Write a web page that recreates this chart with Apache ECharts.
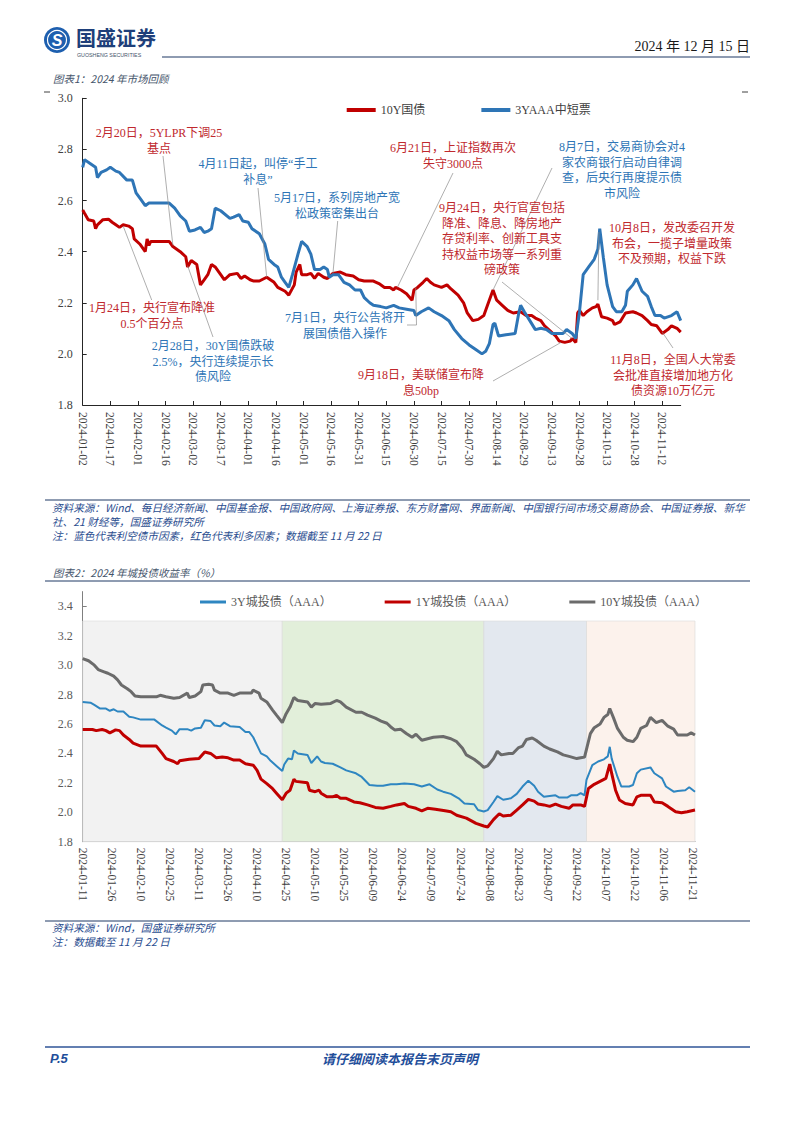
<!DOCTYPE html>
<html><head><meta charset="utf-8">
<script src="https://cdn.jsdelivr.net/npm/echarts@6/dist/echarts.min.js"></script>
<style>html,body{margin:0;padding:0;background:#fff}#page{width:794px;height:1123px}</style>
</head><body><div id="page"></div>
<script>
// ---------------- DATA ----------------
// Chart 1: daily categories 2024-01-02 .. 2024-11-22, points are [days since 2024-01-02, yield %]
const chart1Start = '2024-01-02', chart1End = '2024-11-22';
const chart1Names = ['10Y国债', '3YAAA中短票'];
const gov10Y = [[0,2.563],[1,2.55],[3,2.525],[6,2.52],[7,2.49],[8,2.505],[11,2.525],[14,2.527],[16,2.515],[18,2.505],[20,2.495],[22,2.505],[25,2.50],[27,2.49],[28,2.45],[31,2.43],[34,2.40],[35,2.45],[36,2.425],[37,2.44],[47,2.44],[49,2.42],[53,2.40],[56,2.38],[57,2.34],[59,2.365],[62,2.35],[64,2.27],[66,2.29],[68,2.31],[70,2.35],[72,2.34],[75,2.31],[77,2.29],[80,2.31],[84,2.315],[86,2.295],[88,2.305],[91,2.29],[93,2.285],[96,2.285],[100,2.30],[104,2.28],[106,2.26],[110,2.245],[112,2.23],[115,2.27],[116,2.32],[118,2.35],[119,2.31],[122,2.31],[124,2.315],[126,2.295],[128,2.315],[131,2.30],[133,2.295],[136,2.315],[140,2.32],[143,2.31],[147,2.305],[150,2.29],[153,2.285],[158,2.285],[161,2.275],[164,2.26],[167,2.26],[169,2.25],[170,2.26],[173,2.25],[176,2.235],[179,2.21],[180,2.25],[182,2.26],[185,2.28],[187,2.295],[189,2.28],[191,2.27],[195,2.26],[198,2.27],[200,2.255],[204,2.23],[207,2.20],[209,2.16],[212,2.13],[215,2.135],[218,2.15],[220,2.19],[223,2.25],[225,2.21],[228,2.19],[231,2.17],[234,2.16],[238,2.165],[241,2.15],[244,2.15],[246,2.14],[249,2.13],[251,2.11],[254,2.09],[257,2.07],[259,2.05],[262,2.045],[265,2.05],[266,2.06],[268,2.045],[269,2.16],[270,2.17],[272,2.15],[274,2.165],[277,2.18],[279,2.185],[280,2.195],[282,2.145],[285,2.14],[288,2.13],[289,2.115],[292,2.125],[295,2.16],[299,2.165],[301,2.16],[304,2.15],[307,2.13],[309,2.115],[312,2.11],[315,2.08],[318,2.095],[320,2.11],[323,2.10],[325,2.085]];
const mtn3YAAA = [[0,2.73],[1,2.76],[4,2.745],[7,2.73],[8,2.69],[10,2.71],[13,2.72],[15,2.73],[18,2.715],[20,2.71],[24,2.68],[27,2.68],[29,2.63],[31,2.61],[34,2.58],[36,2.59],[47,2.59],[50,2.57],[53,2.54],[56,2.52],[58,2.48],[61,2.485],[64,2.495],[66,2.475],[68,2.48],[70,2.49],[72,2.57],[75,2.56],[80,2.53],[82,2.535],[85,2.545],[87,2.52],[90,2.515],[92,2.49],[96,2.47],[99,2.43],[101,2.37],[104,2.35],[106,2.34],[108,2.30],[110,2.28],[112,2.26],[114,2.31],[117,2.39],[119,2.44],[122,2.42],[124,2.39],[126,2.33],[129,2.33],[131,2.34],[133,2.33],[134,2.30],[136,2.31],[139,2.31],[142,2.28],[145,2.27],[148,2.25],[151,2.25],[153,2.22],[156,2.20],[158,2.19],[162,2.185],[165,2.18],[169,2.19],[172,2.18],[176,2.175],[180,2.17],[181,2.15],[184,2.165],[188,2.18],[191,2.165],[195,2.15],[199,2.13],[202,2.095],[206,2.06],[210,2.035],[214,2.015],[217,2.00],[219,2.01],[221,2.04],[223,2.115],[224,2.12],[226,2.07],[230,2.075],[235,2.08],[237,2.16],[238,2.19],[240,2.165],[243,2.13],[246,2.095],[249,2.10],[252,2.095],[255,2.08],[261,2.08],[263,2.095],[266,2.08],[268,2.06],[270,2.165],[272,2.31],[275,2.34],[278,2.37],[279,2.39],[280,2.41],[281,2.49],[283,2.375],[285,2.27],[288,2.185],[290,2.165],[293,2.165],[295,2.19],[296,2.245],[299,2.27],[301,2.295],[304,2.245],[307,2.225],[309,2.185],[311,2.15],[314,2.15],[316,2.14],[318,2.145],[320,2.15],[323,2.165],[325,2.13]];
const chart1Ticks = [1.8, 3.0, 0.2]; // min, max, step

// Chart 2: daily categories 2024-01-11 .. 2024-11-22, points are [days since 2024-01-11, yield %]
const chart2Start = '2024-01-11', chart2End = '2024-11-22';
const chart2Names = ['3Y城投债（AAA）', '1Y城投债（AAA）', '10Y城投债（AAA）'];
const lgfv3Y = [[0,2.75],[4,2.745],[6,2.73],[9,2.705],[12,2.705],[14,2.69],[16,2.70],[18,2.685],[21,2.685],[24,2.65],[26,2.645],[30,2.63],[37,2.63],[41,2.59],[43,2.575],[46,2.555],[48,2.53],[50,2.565],[54,2.565],[56,2.555],[58,2.57],[61,2.575],[63,2.625],[66,2.62],[68,2.59],[71,2.585],[73,2.61],[76,2.585],[81,2.58],[84,2.545],[86,2.545],[88,2.51],[90,2.455],[92,2.40],[95,2.38],[97,2.35],[100,2.315],[103,2.28],[104,2.325],[106,2.365],[108,2.36],[109,2.42],[111,2.40],[116,2.39],[118,2.335],[121,2.38],[123,2.345],[125,2.335],[129,2.33],[133,2.305],[136,2.285],[141,2.265],[144,2.24],[148,2.185],[152,2.18],[155,2.18],[159,2.19],[162,2.19],[166,2.195],[171,2.19],[175,2.175],[179,2.19],[183,2.155],[186,2.14],[190,2.125],[194,2.095],[197,2.06],[202,2.055],[204,2.015],[207,2.005],[209,2.015],[212,2.07],[214,2.11],[217,2.085],[221,2.095],[224,2.125],[227,2.175],[230,2.215],[233,2.18],[235,2.14],[238,2.105],[241,2.11],[244,2.115],[246,2.10],[250,2.10],[252,2.115],[255,2.115],[257,2.13],[259,2.115],[260,2.22],[263,2.32],[266,2.345],[269,2.36],[271,2.38],[272,2.445],[273,2.365],[276,2.24],[278,2.175],[282,2.175],[284,2.185],[286,2.265],[288,2.29],[293,2.305],[295,2.265],[299,2.23],[301,2.175],[305,2.14],[307,2.145],[311,2.15],[313,2.17],[316,2.14]];
const lgfv1Y = [[0,2.563],[5,2.563],[7,2.555],[10,2.563],[12,2.555],[14,2.54],[17,2.56],[19,2.555],[21,2.525],[24,2.495],[26,2.47],[30,2.45],[38,2.45],[41,2.40],[43,2.365],[47,2.345],[49,2.33],[50,2.35],[55,2.36],[60,2.365],[63,2.41],[66,2.40],[69,2.37],[72,2.375],[75,2.37],[78,2.355],[81,2.355],[84,2.33],[88,2.32],[90,2.285],[92,2.225],[95,2.195],[98,2.16],[100,2.13],[103,2.085],[105,2.13],[107,2.15],[109,2.225],[110,2.21],[116,2.20],[117,2.15],[120,2.14],[122,2.15],[123,2.13],[126,2.105],[129,2.105],[131,2.115],[133,2.095],[136,2.095],[140,2.07],[143,2.065],[147,2.05],[151,2.033],[155,2.027],[159,2.04],[162,2.05],[166,2.06],[168,2.04],[172,2.027],[175,2.01],[178,2.027],[182,2.02],[187,2.01],[190,2.004],[193,1.98],[198,1.96],[203,1.925],[207,1.907],[209,1.90],[212,1.95],[215,1.99],[217,1.975],[221,1.98],[224,2.015],[227,2.05],[230,2.088],[233,2.076],[235,2.056],[238,2.05],[241,2.04],[244,2.056],[247,2.04],[251,2.027],[253,2.05],[257,2.05],[259,2.04],[261,2.162],[264,2.19],[267,2.21],[270,2.23],[272,2.328],[273,2.264],[275,2.15],[277,2.083],[280,2.06],[284,2.05],[286,2.105],[288,2.115],[293,2.115],[295,2.07],[299,2.065],[302,2.04],[306,2.004],[309,1.997],[312,2.004],[316,2.015]];
const lgfv10Y = [[0,3.045],[3,3.03],[6,3.00],[8,2.97],[11,2.955],[13,2.945],[16,2.925],[18,2.90],[20,2.865],[23,2.84],[25,2.82],[27,2.79],[30,2.785],[38,2.785],[40,2.795],[43,2.785],[47,2.775],[50,2.78],[54,2.81],[55,2.78],[58,2.79],[61,2.82],[62,2.865],[65,2.87],[67,2.865],[68,2.83],[71,2.81],[75,2.81],[78,2.795],[81,2.81],[87,2.81],[88,2.83],[91,2.81],[92,2.775],[95,2.75],[98,2.695],[100,2.66],[103,2.61],[105,2.67],[107,2.715],[109,2.78],[111,2.76],[116,2.75],[118,2.715],[120,2.74],[123,2.735],[128,2.74],[131,2.76],[133,2.75],[136,2.715],[141,2.68],[144,2.68],[147,2.66],[151,2.64],[154,2.62],[157,2.605],[159,2.58],[161,2.56],[164,2.565],[167,2.535],[170,2.51],[172,2.53],[175,2.49],[178,2.50],[181,2.51],[186,2.515],[190,2.50],[193,2.48],[196,2.435],[198,2.39],[202,2.36],[205,2.33],[207,2.305],[209,2.315],[212,2.365],[214,2.415],[216,2.39],[220,2.40],[222,2.40],[225,2.44],[227,2.45],[229,2.495],[232,2.505],[234,2.49],[238,2.45],[241,2.43],[245,2.41],[248,2.39],[251,2.38],[255,2.365],[257,2.37],[259,2.375],[262,2.535],[264,2.575],[267,2.60],[269,2.645],[271,2.665],[272,2.705],[274,2.64],[276,2.57],[279,2.51],[281,2.49],[284,2.48],[286,2.51],[288,2.57],[291,2.59],[293,2.645],[296,2.61],[299,2.625],[302,2.585],[305,2.565],[307,2.525],[312,2.525],[314,2.54],[316,2.525]];
const chart2Ticks = [1.8, 3.5, 0.2];
// shaded phases: [from day, to day] since 2024-01-11, and top of shading (%)
const phaseDays = [[0,103],[103,207],[207,260],[260,316]];
const phaseTop = 3.3;

// Annotations of chart 1: text and the point they point to [days since 2024-01-02, yield]
const noteTexts = [
  '2月20日，5YLPR下调25\n基点',
  '4月11日起，叫停“手工\n补息”',
  '5月17日，系列房地产宽\n松政策密集出台',
  '1月24日，央行宣布降准\n0.5个百分点',
  '2月28日，30Y国债跌破\n2.5%，央行连续提示长\n债风险',
  '7月1日，央行公告将开\n展国债借入操作',
  '6月21日，上证指数再次\n失守3000点',
  '9月18日，美联储宣布降\n息50bp',
  '9月24日，央行官宣包括\n降准、降息、降房地产\n存贷利率、创新工具支\n持权益市场等一系列重\n磅政策',
  '8月7日，交易商协会对4\n家农商银行启动自律调\n查，后央行再度提示债\n市风险',
  '10月8日，发改委召开发\n布会，一揽子增量政策\n不及预期，权益下跌',
  '11月8日，全国人大常委\n会批准直接增加地方化\n债资源10万亿元'
];
const noteKinds = ['bull','bear','bear','bull','bear','bear','bull','bull','bull','bear','bull','bull'];
const noteTargets = [[49,2.425],[100,2.30],[136,2.315],[22,2.50],[57,2.345],[181,2.26],[171,2.26],[260,2.045],[266,2.06],[223,2.25],[280,2.21],[315,2.085]];

// ---------------- LAYOUT / STYLE ----------------
const SERIF = "'Liberation Serif','Times New Roman','Noto Sans CJK SC',serif";
const SANS = "'Noto Sans CJK SC','Liberation Sans',sans-serif";
const RED = '#C00000', BLUE = '#2E75B6';
const noteLayout = [
  {x:159, y:133, path:[[163,156]]},
  {x:258, y:164, path:[[258,188]]},
  {x:337, y:198, path:[[337.7,221]]},
  {x:152, y:308, path:[[151.7,300]]},
  {x:213, y:346, path:[[213,337]]},
  {x:345, y:318, path:[[407,325],[416.5,325]]},
  {x:453, y:148, path:[[453,173]]},
  {x:421, y:375, path:[[493,381]]},
  {x:502, y:208, path:[[502,282]]},
  {x:622, y:147, path:[[552,168]]},
  {x:672, y:228, path:[[598.9,232]]},
  {x:673, y:360, path:[[673,348]]}
];
const LH = 15.5;

function dayList(a, b) {
  const out = [];
  const d = new Date(a + 'T00:00:00Z'), e = new Date(b + 'T00:00:00Z');
  while (d <= e) { out.push(d.toISOString().slice(0, 10)); d.setUTCDate(d.getUTCDate() + 1); }
  return out;
}
const dates1 = dayList(chart1Start, chart1End);
const dates2 = dayList(chart2Start, chart2End);

const chart = echarts.init(document.getElementById('page'), null, {renderer: 'svg', width: 794, height: 1123});

function yAxisCfg(gi, t, color, lineColor) {
  return {
    type: 'value', gridIndex: gi, min: t[0], max: t[1], interval: t[2],
    axisLine: {show: true, lineStyle: {color: lineColor, width: 1}},
    axisTick: {show: true, inside: true, length: 4, lineStyle: {color: lineColor}},
    splitLine: {show: false},
    axisLabel: {color: color, fontSize: 12, fontFamily: SERIF, margin: 10, showMaxLabel: gi === 0,
      formatter: v => v.toFixed(1)}
  };
}
const every15 = (i) => i % 15 === 0;
function xAxisCfg(gi, cats, lineColor, margin) {
  return {
    type: 'category', gridIndex: gi, data: cats, boundaryGap: false,
    axisLine: {show: true, lineStyle: {color: lineColor, width: 1}},
    axisTick: {show: true, inside: true, length: 4, interval: every15, lineStyle: {color: lineColor}},
    splitLine: {show: false},
    axisLabel: {interval: every15, rotate: -90, color: '#404040', fontSize: 11.5, fontFamily: SERIF, margin: margin, hideOverlap: false}
  };
}

const shadeColors = ['#F2F2F2', '#E2EFDA', '#E3E8EF', '#FCF2EC'];

const option = {
  animation: false,
  backgroundColor: '#ffffff',
  grid: [
    {left: 82.7, top: 98.3, width: 598, height: 306.7, containLabel: false, outerBoundsMode: 'none'},
    {left: 82.7, top: 591.6, width: 612.3, height: 250.1, containLabel: false, outerBoundsMode: 'none'}
  ],
  xAxis: [xAxisCfg(0, dates1, '#262626', 7), xAxisCfg(1, dates2, '#7f7f7f', 6)],
  yAxis: [yAxisCfg(0, chart1Ticks, '#404040', '#262626'), yAxisCfg(1, chart2Ticks, '#595959', '#7f7f7f')],
  legend: [
    {data: chart1Names, left: 346.7, top: 104, padding: 0, itemGap: 56, icon: 'rect', itemWidth: 29, itemHeight: 4,
     textStyle: {fontSize: 12, fontFamily: SERIF, color: '#404040'}, selectedMode: false},
    {data: chart2Names, left: 200, top: 596, padding: 0, itemGap: 53, icon: 'rect', itemWidth: 26, itemHeight: 3,
     textStyle: {fontSize: 12, fontFamily: SERIF, color: '#595959'}, selectedMode: false}
  ],
  series: [
    {name: chart1Names[0], type: 'line', xAxisIndex: 0, yAxisIndex: 0, data: gov10Y, showSymbol: false, symbol: 'none',
     lineStyle: {color: RED, width: 3}, itemStyle: {color: RED}, z: 3},
    {name: chart1Names[1], type: 'line', xAxisIndex: 0, yAxisIndex: 0, data: mtn3YAAA, showSymbol: false, symbol: 'none',
     lineStyle: {color: BLUE, width: 3}, itemStyle: {color: BLUE}, z: 4},
    {name: chart2Names[0], type: 'line', xAxisIndex: 1, yAxisIndex: 1, data: lgfv3Y, showSymbol: false, symbol: 'none',
     lineStyle: {color: '#2E86C1', width: 2}, itemStyle: {color: '#2E86C1'}, z: 3,
     markArea: {silent: true, z: 1,
       data: phaseDays.map((p, i) => [
         {xAxis: dates2[p[0]], yAxis: chart2Ticks[0], itemStyle: {color: shadeColors[i], borderColor: '#d9d9d9', borderWidth: 0.6}},
         {xAxis: dates2[p[1]], yAxis: phaseTop}
       ])}},
    {name: chart2Names[1], type: 'line', xAxisIndex: 1, yAxisIndex: 1, data: lgfv1Y, showSymbol: false, symbol: 'none',
     lineStyle: {color: RED, width: 3}, itemStyle: {color: RED}, z: 3},
    {name: chart2Names[2], type: 'line', xAxisIndex: 1, yAxisIndex: 1, data: lgfv10Y, showSymbol: false, symbol: 'none',
     lineStyle: {color: '#6B6B6B', width: 3}, itemStyle: {color: '#6B6B6B'}, z: 3}
  ]
};
chart.setOption(option);

// ---------------- PAGE TEXT & ANNOTATIONS ----------------
function txt(text, x, y, o) {
  o = o || {};
  return {type: 'text', silent: true, z: o.z || 20, style: {
    text: text, x: x, y: y, fill: o.fill || '#333', fontSize: o.size || 12, fontFamily: o.family || SANS,
    fontWeight: o.weight || 'normal', fontStyle: o.style || 'normal', align: o.align || 'left',
    verticalAlign: o.valign || 'middle', lineHeight: o.lh || undefined}};
}
function ln(x1, y1, x2, y2, color, w) {
  return {type: 'line', silent: true, z: 20, shape: {x1: x1, y1: y1, x2: x2, y2: y2}, style: {stroke: color, lineWidth: w}};
}
const NAVY = '#1F3864', SRC = '#2A4D8F';
const g = [
  // header
  {type: 'circle', silent: true, z: 20, shape: {cx: 57, cy: 40, r: 13}, style: {fill: '#1D5FAF'}},
  {type: 'circle', silent: true, z: 21, shape: {cx: 57, cy: 40, r: 9.5}, style: {fill: 'none', stroke: '#ffffff', lineWidth: 1.2}},
  txt('S', 57, 40.5, {fill: '#ffffff', size: 16, weight: 'bold', style: 'italic', family: "'Liberation Sans',sans-serif", align: 'center', z: 22}),
  txt('国盛证券', 76, 37, {fill: '#1E3F7A', size: 20, weight: 'bold'}),
  txt('GUOSHENG SECURITIES', 77, 54.5, {fill: '#44546A', size: 5.3, family: "'Liberation Sans',sans-serif"}),
  ln(162, 57, 750, 57, NAVY, 1.2),
  txt('2024 年 12 月 15 日', 750, 46, {fill: '#1a1a1a', size: 14, family: SERIF, align: 'right'}),
  // chart 1 title & frame marks
  txt('图表1：2024 年市场回顾', 53, 78, {fill: '#44546A', size: 10.5, style: 'italic'}),
  ln(44, 92, 50, 92, '#404040', 1), ln(742, 92, 748, 92, '#404040', 1),
  // chart 1 sources
  ln(45, 500, 750, 500, NAVY, 1),
  txt('资料来源：Wind、每日经济新闻、中国基金报、中国政府网、上海证券报、东方财富网、界面新闻、中国银行间市场交易商协会、中国证券报、新华', 52, 507, {fill: SRC, size: 10.6, style: 'italic'}),
  txt('社、21 财经等，国盛证券研究所', 52, 521, {fill: SRC, size: 10.6, style: 'italic'}),
  txt('注：蓝色代表利空债市因素，红色代表利多因素；数据截至 11 月 22 日', 52, 535, {fill: SRC, size: 10.6, style: 'italic'}),
  // chart 2 title
  txt('图表2：2024 年城投债收益率（%）', 53, 572, {fill: '#44546A', size: 10.5, style: 'italic'}),
  ln(45, 581, 750, 581, NAVY, 1),
  // chart 2 sources
  ln(45, 921, 750, 921, NAVY, 1),
  txt('资料来源：Wind，国盛证券研究所', 52, 927, {fill: SRC, size: 10.6, style: 'italic'}),
  txt('注：数据截至 11 月 22 日', 52, 941, {fill: SRC, size: 10.6, style: 'italic'}),
  // footer
  ln(45, 1047, 750, 1047, '#2F5597', 1.5),
  txt('P.5', 50, 1058, {fill: '#1F4E9A', size: 13, weight: 'bold', style: 'italic', family: "'Liberation Sans',sans-serif"}),
  txt('请仔细阅读本报告末页声明', 400, 1058, {fill: '#1F4E9A', size: 13, weight: 'bold', style: 'italic', align: 'center'})
];
noteTexts.forEach((t, i) => {
  const L = noteLayout[i];
  const color = noteKinds[i] === 'bull' ? '#C0282D' : BLUE;
  g.push(txt(t, L.x, L.y - LH / 2, {fill: color, size: 12, family: SERIF, align: 'center', valign: 'top', lh: LH, z: 15}));
  const tp = chart.convertToPixel({xAxisIndex: 0, yAxisIndex: 0}, noteTargets[i]);
  g.push({type: 'polyline', silent: true, z: 14, shape: {points: L.path.concat([tp])},
          style: {stroke: '#8c8c8c', lineWidth: 0.7, fill: null}});
});
chart.setOption({graphic: {elements: g}});
</script>
</body></html>
